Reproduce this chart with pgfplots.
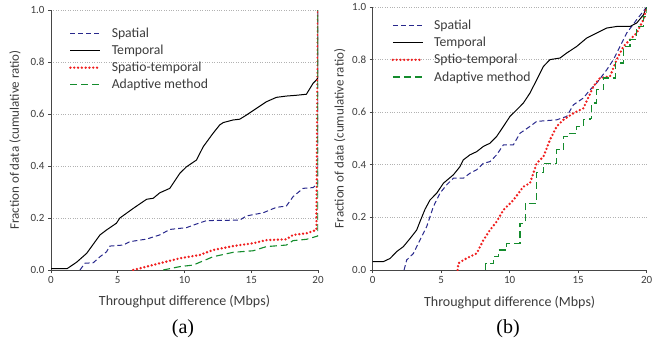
\documentclass[border=0pt]{standalone}
\usepackage{pgfplots}
\pgfplotsset{compat=1.18}
\usepackage{fontspec}
\setmainfont{Carlito}
\newfontfamily\serifcap{Liberation Serif}
\definecolor{spblue}{RGB}{40,40,140}
\definecolor{stred}{RGB}{240,30,30}
\definecolor{adgreen}{RGB}{20,140,45}
\definecolor{axgray}{RGB}{70,70,70}
\definecolor{txtgray}{RGB}{60,60,60}
\pgfplotsset{
  cdfax/.style={
    scale only axis,
    anchor=south west,
    xmin=0, xmax=20, ymin=0, ymax=1,
    axis x line*=bottom, axis y line*=left,
    axis line style={axgray, line width=0.9pt, -},
    xtick={0,5,10,15,20},
    ytick={0,0.2,0.4,0.6,0.8,1.0},
    yticklabel style={/pgf/number format/.cd, fixed, fixed zerofill, precision=1},
    /pgf/number format/assume math mode=true,
    tick style={axgray, line width=0.7pt},
    tick align=outside,
    major tick length=3pt,
    ticklabel style={font=\fontsize{11}{12}\selectfont, text=txtgray},
    ymajorgrids,
    grid style={gray!60, dotted, line width=0.7pt},
    xlabel={Throughput difference (Mbps)},
    ylabel={Fraction of data (cumulative ratio)},
    xlabel style={font=\fontsize{14}{16}\selectfont, text=txtgray},
    ylabel style={font=\fontsize{13}{15}\selectfont, text=txtgray},
    legend style={draw=none, fill=none,
      nodes={font=\fontsize{13.7}{15}\selectfont, text=txtgray},
      anchor=north west, row sep=2.2pt, cells={anchor=west}},
    legend cell align=left,
    legend image code/.code={\draw[#1] (0pt,0pt) -- (30pt,0pt); \path (38pt,0pt);},
  },
  spatial/.style={spblue, line width=1pt, dash pattern=on 5pt off 3pt},
  temporal/.style={black, line width=1pt},
  spatiot/.style={stred, line width=2.6pt, line cap=round, dash pattern=on 0pt off 3.8pt},
  adaptive/.style={adgreen, line width=1.1pt, dash pattern=on 7pt off 4pt},
}
\begin{document}
\begin{tikzpicture}
\useasboundingbox (0,0) rectangle (652pt,341pt);
% ---------------- (a)
\begin{axis}[cdfax, at={(51pt,71pt)}, width=267pt, height=260pt,
  xlabel style={at={(axis description cs:0.5,-0.123)}, anchor=center},
  ylabel style={at={(axis description cs:-0.135,0.5)}, anchor=center},
  legend style={at={(axis description cs:0.056,0.948)}}]
\addplot[spatial] coordinates {
(2.17,0) (2.54,0.026) (3.17,0.028) (3.67,0.051) (4.16,0.07) (4.41,0.092) (5.41,0.096)
(5.91,0.109) (7.16,0.119) (8.15,0.135) (8.9,0.156) (10.15,0.163) (10.9,0.177) (11.65,0.19)
(14.14,0.192) (14.64,0.208) (15.89,0.22) (16.88,0.241) (17.63,0.246) (18.13,0.282)
(18.88,0.314) (19.63,0.317) (20,0.333) (20,1.0)};
\addlegendentry{Spatial}
\addplot[temporal] coordinates {
(0,0.005) (1.2,0.005) (1.92,0.03) (2.67,0.064) (3.67,0.135) (4.16,0.154) (4.9,0.18)
(5.16,0.2) (6.16,0.237) (7.16,0.272) (7.66,0.276) (8.15,0.297) (8.9,0.314) (9.65,0.372)
(10.15,0.397) (10.9,0.423) (11.4,0.474) (12.14,0.526) (12.64,0.558) (12.9,0.567)
(13.64,0.577) (14.14,0.58) (14.64,0.596) (15.4,0.622) (16.13,0.647) (16.88,0.664)
(17.63,0.669) (18.38,0.672) (19.13,0.676) (19.63,0.718) (19.88,0.731) (20,0.74) (20,1.0)};
\addlegendentry{Temporal}
\addplot[spatiot] coordinates {
(6.16,0) (7.16,0.013) (8.15,0.026) (9.65,0.045) (11.15,0.058) (12.14,0.077) (13.64,0.092)
(15.14,0.103) (16.13,0.115) (17.63,0.118) (18.13,0.135) (19.13,0.141) (19.88,0.154) (20,1.0)};
\addlegendentry{Spatio-temporal}
\addplot[adaptive] coordinates {
(8.4,0) (9.65,0.013) (10.65,0.019) (12.14,0.051) (13.64,0.068) (15.14,0.074) (16.13,0.09)
(17.63,0.096) (18.13,0.113) (19.13,0.118) (20,0.131) (20,1.0)};
\addlegendentry{Adaptive method}
\end{axis}
\node[font=\serifcap\fontsize{20}{22}\selectfont, text=black] at (183pt,12pt) {(a)};
% ---------------- (b)
\begin{axis}[cdfax, at={(372.7pt,71pt)}, width=274pt, height=263pt,
  xlabel style={at={(axis description cs:0.5,-0.122)}, anchor=center},
  ylabel style={at={(axis description cs:-0.12,0.5)}, anchor=center},
  legend style={at={(axis description cs:0.057,0.967)}}]
\addplot[spatial] coordinates {
(2.29,0) (2.48,0.038) (2.97,0.063) (3.45,0.114) (3.94,0.165) (4.43,0.241) (4.91,0.292)
(5.4,0.324) (5.89,0.349) (6.62,0.349) (7.1,0.368) (7.59,0.381) (8.08,0.406) (8.56,0.412)
(9.05,0.438) (9.54,0.476) (10.27,0.476) (10.75,0.52) (11.48,0.546) (11.97,0.565)
(13.43,0.571) (14.16,0.584) (14.65,0.628) (15.38,0.654) (15.86,0.685) (16.35,0.711)
(17.08,0.761) (17.57,0.8) (18.05,0.85) (18.54,0.901) (19.27,0.952) (20,1.0)};
\addlegendentry{Spatial}
\addplot[temporal] coordinates {
(0,0.032) (0.78,0.032) (1.27,0.044) (1.75,0.07) (2.24,0.089) (2.73,0.12) (3.21,0.152)
(3.45,0.184) (3.82,0.231) (4.18,0.266) (4.67,0.292) (5.16,0.33) (5.89,0.362) (6.37,0.393)
(6.62,0.419) (7.1,0.438) (7.59,0.45) (8.08,0.47) (8.56,0.482) (9.05,0.508) (9.54,0.546)
(10.02,0.584) (10.51,0.609) (11.0,0.635) (11.48,0.673) (11.97,0.723) (12.46,0.774)
(12.94,0.8) (13.67,0.806) (14.16,0.825) (14.89,0.85) (15.62,0.882) (16.35,0.901)
(17.08,0.92) (17.81,0.926) (18.78,0.926) (19.27,0.939) (19.76,0.97) (20,1.0)};
\addlegendentry{Temporal}
\addplot[spatiot] coordinates {
(6.2,0) (6.25,0.025) (6.62,0.038) (7.1,0.051) (7.59,0.063) (8.08,0.114) (8.56,0.152)
(9.05,0.184) (9.54,0.228) (10.27,0.266) (11.0,0.317) (11.48,0.33) (11.97,0.406)
(12.46,0.431) (12.94,0.495) (13.43,0.546) (13.92,0.571) (14.65,0.596) (15.38,0.615)
(16.11,0.698) (16.59,0.73) (17.32,0.736) (17.81,0.8) (18.3,0.85) (18.78,0.876)
(19.27,0.901) (19.76,0.952) (20,1.0)};
\addlegendentry{Sptio-temporal}
\addplot[adaptive] coordinates {
(8.25,0) (8.25,0.025) (8.81,0.025) (8.81,0.051) (9.17,0.051) (9.17,0.076) (9.78,0.076)
(9.78,0.1) (10.75,0.1) (10.75,0.178) (11.12,0.178) (11.12,0.254) (11.97,0.254)
(11.97,0.37) (12.46,0.37) (12.46,0.406) (13.43,0.406) (13.43,0.457) (13.92,0.457)
(13.92,0.508) (14.4,0.508) (14.4,0.52) (14.89,0.52) (14.89,0.546) (15.38,0.546)
(15.38,0.571) (15.86,0.571) (15.86,0.577) (15.98,0.577) (15.98,0.635) (16.35,0.635)
(16.35,0.685) (16.84,0.685) (16.84,0.73) (17.69,0.73) (17.69,0.787) (18.3,0.787)
(18.3,0.85) (18.78,0.85) (18.78,0.876) (19.27,0.876) (19.27,0.926) (19.76,0.926)
(19.76,0.965) (20,0.965) (20,1.0)};
\addlegendentry{Adaptive method}
\end{axis}
\node[font=\serifcap\fontsize{20}{22}\selectfont, text=black] at (508pt,12pt) {(b)};
\end{tikzpicture}
\end{document}
